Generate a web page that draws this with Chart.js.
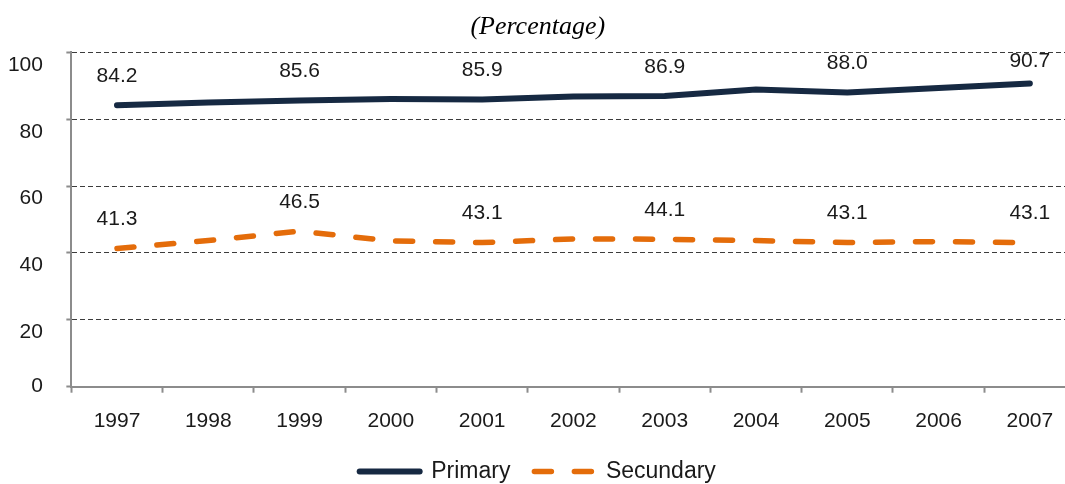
<!DOCTYPE html>
<html>
<head>
<meta charset="utf-8">
<script src="https://cdn.jsdelivr.net/npm/chart.js@4/dist/chart.umd.min.js"></script>
<style>
    html, body { margin: 0; padding: 0; background: #fff; overflow: hidden; }
    .chart-wrap { position: absolute; left: 0; top: 0; width: 1092px; height: 493px; }
</style>
</head>
<body>
<div class="chart-wrap"><canvas id="enrolment-chart"></canvas></div>
<script>
const years = ['1997', '1998', '1999', '2000', '2001', '2002', '2003', '2004', '2005', '2006', '2007'];
const primaryRates = [84.2, 85.0, 85.6, 86.0, 85.9, 86.8, 86.9, 88.9, 88.0, 89.3, 90.7];
const secundaryRates = [41.3, 43.7, 46.5, 43.6, 43.1, 44.2, 44.1, 43.7, 43.1, 43.4, 43.1];
const yTicks = [0, 20, 40, 60, 80, 100];

const sans = '"Liberation Sans", Arial, sans-serif';
const axisGrey = '#8c8c8c';
const textColor = '#1a1a1a';

// value labels above every second point
const valueLabels = {
    id: 'valueLabels',
    afterDatasetsDraw(chart) {
        const { ctx, chartArea } = chart;
        ctx.save();
        ctx.font = '21px ' + sans;
        ctx.fillStyle = textColor;
        ctx.textAlign = 'center';
        ctx.textBaseline = 'middle';
        chart.data.datasets.forEach((ds, i) => {
            chart.getDatasetMeta(i).data.forEach((pt, j) => {
                if (j % 2 !== 0) return;
                const y = Math.max(pt.y - 29, chartArea.top + 9);
                ctx.fillText(ds.data[j].toFixed(1), pt.x, y);
            });
        });
        ctx.restore();
    }
};

new Chart(document.getElementById('enrolment-chart'), {
    type: 'line',
    data: {
        labels: years,
        datasets: [
            {
                label: 'Primary',
                data: primaryRates,
                borderColor: '#162942',
                backgroundColor: '#162942',
                borderWidth: 6,
                borderCapStyle: 'round',
                borderJoinStyle: 'round',
                pointRadius: 0,
                tension: 0,
                fill: false
            },
            {
                label: 'Secundary',
                data: secundaryRates,
                borderColor: '#e46c0a',
                backgroundColor: '#e46c0a',
                borderWidth: 5.5,
                borderDash: [17, 23],
                borderCapStyle: 'round',
                borderJoinStyle: 'round',
                pointRadius: 0,
                tension: 0,
                fill: false
            }
        ]
    },
    options: {
        responsive: true,
        maintainAspectRatio: false,
        animation: false,
        layout: { padding: { left: 0, right: 16.5, top: 0, bottom: 0 } },
        scales: {
            x: {
                offset: true,
                grid: {
                    offset: true,
                    drawOnChartArea: false,
                    drawTicks: true,
                    tickLength: 6,
                    tickColor: axisGrey,
                    tickWidth: 2
                },
                border: { color: axisGrey, width: 2 },
                ticks: {
                    color: textColor,
                    padding: 16,
                    maxRotation: 0,
                    font: { family: sans, size: 21, lineHeight: 1.2 }
                },
                afterFit: scale => { scale.height = 49.3; }
            },
            y: {
                min: 0,
                max: 100,
                afterBuildTicks: scale => { scale.ticks = yTicks.map(v => ({ value: v })); },
                grid: {
                    color: c => (c.tick && c.tick.value === 0) ? 'rgba(0,0,0,0)' : '#3c3c3c',
                    lineWidth: 1,
                    tickLength: 5,
                    tickColor: axisGrey,
                    tickWidth: 2,
                    tickBorderDash: []
                },
                border: { color: axisGrey, width: 2, dash: [5, 3] },
                ticks: {
                    color: textColor,
                    padding: 23.4,
                    font: { family: sans, size: 21, lineHeight: 1.2 },
                    // labels sit a little under their gridline, except 0
                    callback: value => value === 0 ? '0' : ['', String(value)]
                },
                afterFit: scale => { scale.width = 71.35; }
            }
        },
        plugins: {
            title: {
                display: true,
                text: '(Percentage)',
                color: '#000',
                font: { family: '"Liberation Serif", "Times New Roman", serif', size: 26, style: 'italic', weight: 'normal' },
                padding: { top: 11.4, bottom: 9.7 }
            },
            legend: {
                position: 'bottom',
                labels: {
                    usePointStyle: true,
                    pointStyle: 'line',
                    pointStyleWidth: 60,
                    padding: 24,
                    color: textColor,
                    font: { family: sans, size: 23 },
                    generateLabels: chart => {
                        const items = Chart.defaults.plugins.legend.labels.generateLabels(chart);
                        items.forEach(item => {
                            const ds = chart.data.datasets[item.datasetIndex];
                            item.lineDash = ds.borderDash || [];
                            item.lineCap = 'round';
                            item.lineWidth = ds.borderWidth;
                            item.strokeStyle = ds.borderColor;
                        });
                        return items;
                    }
                }
            },
            tooltip: { enabled: false }
        }
    },
    plugins: [valueLabels]
});
</script>
</body>
</html>
